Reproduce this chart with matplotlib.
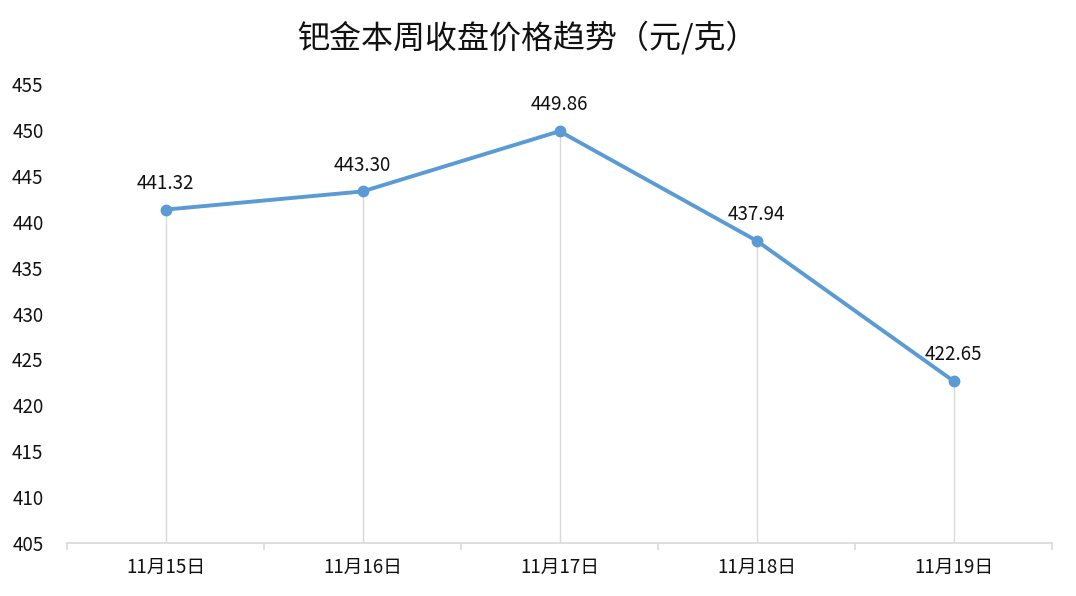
import matplotlib
matplotlib.use('Agg')
import matplotlib.pyplot as plt
import numpy as np

plt.rcParams['font.family'] = ['Noto Sans CJK SC', 'DejaVu Sans']

# closing prices per day (yuan/gram)
dates = ['11月15日', '11月16日', '11月17日', '11月18日', '11月19日']
prices = [441.32, 443.30, 449.86, 437.94, 422.65]
y_ticks = [405, 410, 415, 420, 425, 430, 435, 440, 445, 450, 455]

line_color = '#5B9BD5'
x = np.arange(len(dates))

fig = plt.figure(figsize=(10.76, 5.96), dpi=100)
ax = fig.add_axes([0.0623, 0.0889, 0.9154, 0.7701])

# drop lines from each point to the bottom
ax.vlines(x, 405, prices, colors='#D9D9D9', linewidth=1, zorder=1)
ax.plot(x, prices, color=line_color, linewidth=2.8, marker='o',
        markersize=7.5, zorder=3)

for xi, p in zip(x, prices):
    ax.annotate(f'{p:.2f}', (xi, p), xytext=(0, 19), textcoords='offset points',
                ha='center', va='center', fontsize=13.5, color='#111111')

ax.set_xlim(-0.5, len(dates) - 0.5)
ax.set_ylim(405, 455)
ax.set_yticks(y_ticks)
ax.set_xticks(x)
ax.set_xticklabels(dates)
ax.set_xticks(np.arange(-0.5, len(dates)), minor=True)

for side in ['top', 'right', 'left']:
    ax.spines[side].set_visible(False)
ax.spines['bottom'].set_color('#D9D9D9')
ax.spines['bottom'].set_linewidth(1.2)

ax.tick_params(axis='x', which='major', length=0, pad=10, labelsize=13.5,
               labelcolor='#111111')
ax.tick_params(axis='x', which='minor', length=5, color='#D9D9D9', width=1.2)
ax.tick_params(axis='y', length=0, pad=17, labelsize=13.5, labelcolor='#111111')

fig.suptitle('钯金本周收盘价格趋势（元/克）', x=0.49, y=0.965, fontsize=23, color='#111111')

fig.savefig('out.png', dpi=100)
